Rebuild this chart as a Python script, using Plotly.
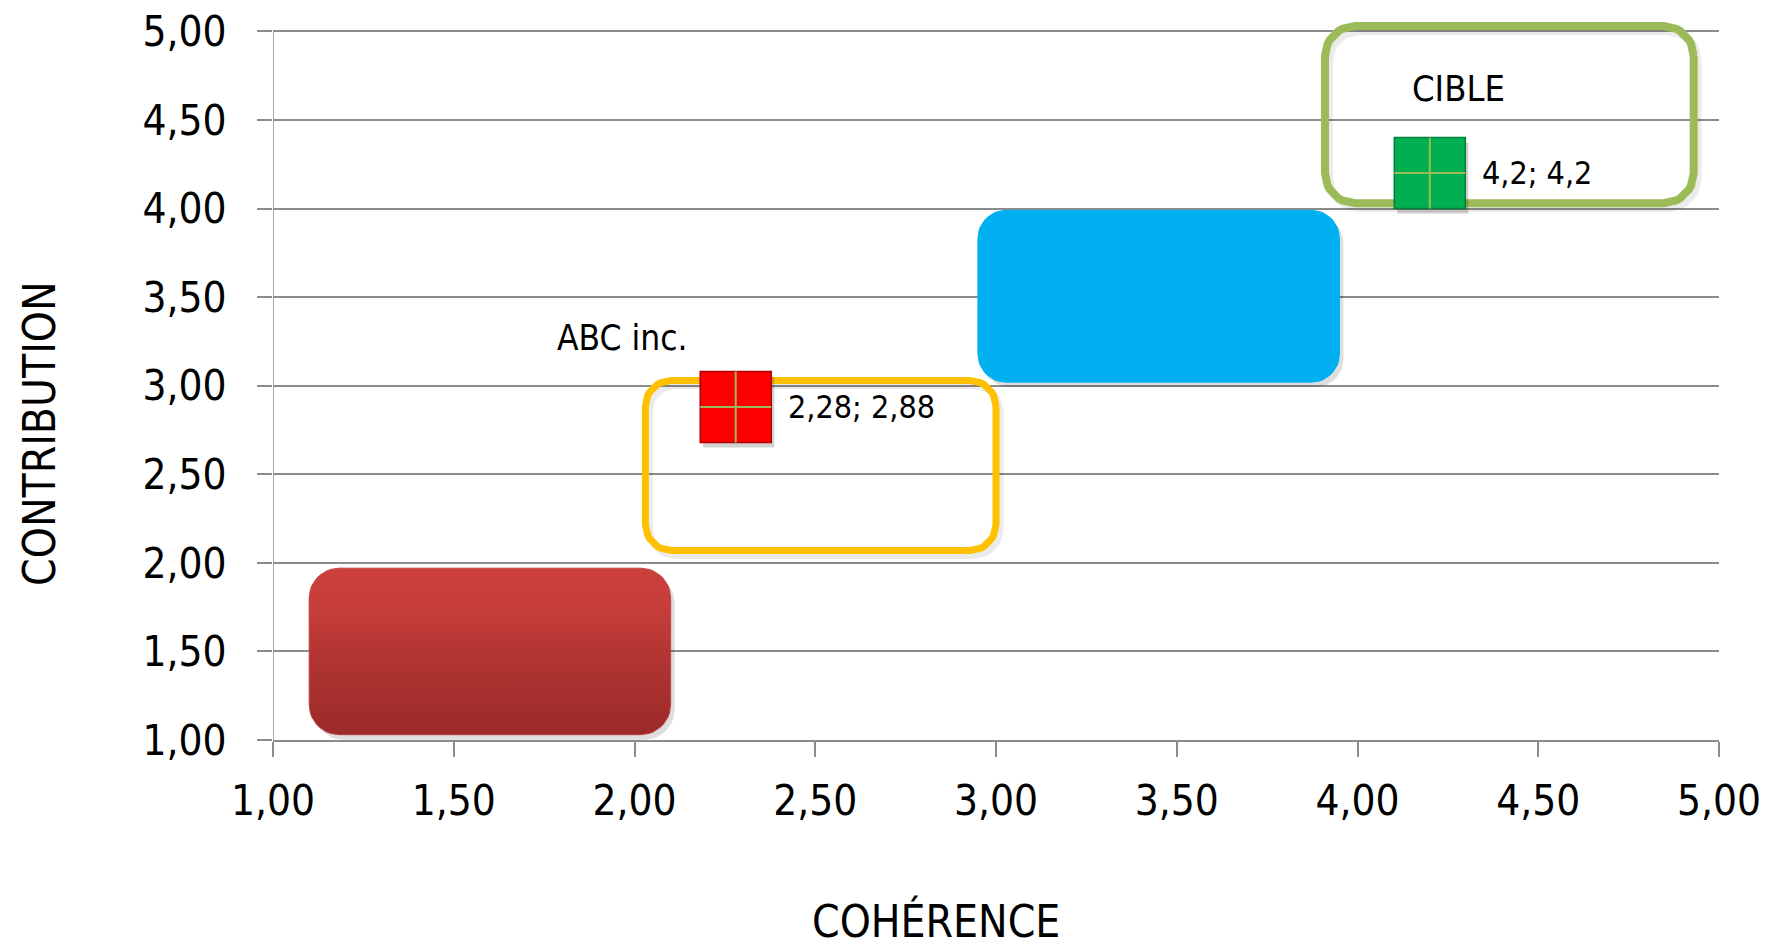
import numpy as np
import plotly.graph_objects as go

# ---------------- data ----------------
tick_vals = [1.0, 1.5, 2.0, 2.5, 3.0, 3.5, 4.0, 4.5, 5.0]
tick_text = ["1,00", "1,50", "2,00", "2,50", "3,00", "3,50", "4,00", "4,50", "5,00"]

zone_names = ["Faible", "ABC", "Moyen", "Cible"]
zone_x0 = [1.10, 2.03, 2.95, 3.91]
zone_x1 = [2.10, 3.00, 3.95, 4.93]
zone_y0 = [1.03, 2.07, 3.02, 4.03]
zone_y1 = [1.97, 3.03, 3.99, 5.03]

point_names = ["ABC inc.", "CIBLE"]
point_x = [2.28, 4.2]
point_y = [2.88, 4.2]
point_labels = ["2,28; 2,88", "4,2; 4,2"]

x_title = "COHÉRENCE"
y_title = "CONTRIBUTION"

# ---------------- layout geometry ----------------
W, H = 1769, 949
ML, MR, MB = 273, 50, 209
X_RANGE = [1, 5]
Y_RANGE = [1, 5.07]
PX_X = (W - ML - MR) / (X_RANGE[1] - X_RANGE[0])
Y_UNIT_PX = 177.1
plot_h = Y_UNIT_PX * (Y_RANGE[1] - Y_RANGE[0])
MT = H - MB - plot_h
PX_Y = Y_UNIT_PX
MARKER_PX = 71

FONT = "Liberation Sans Narrow, DejaVu Sans Condensed, Arial Narrow, sans-serif"
GRID = "#8C8C8C"


def rounded(x0, x1, y0, y1, r_px, n=12):
    rx, ry = r_px / PX_X, r_px / PX_Y
    xs, ys = [], []
    corners = [
        (x1 - rx, y1 - ry, 0, 90),
        (x0 + rx, y1 - ry, 90, 180),
        (x0 + rx, y0 + ry, 180, 270),
        (x1 - rx, y0 + ry, 270, 360),
    ]
    for cx, cy, a0, a1 in corners:
        t = np.radians(np.linspace(a0, a1, n))
        xs.extend(cx + rx * np.cos(t))
        ys.extend(cy + ry * np.sin(t))
    xs.append(xs[0])
    ys.append(ys[0])
    return xs, ys


fig = go.Figure()

zone_style = [
    dict(fill="red", r=30),
    dict(fill=None, color="#FFC000", width=7, r=26),
    dict(fill="#00B0F0", r=28),
    dict(fill=None, color="#9BBB59", width=8, r=30),
]

# shadows
for i, st in enumerate(zone_style):
    dx, dy = 4 / PX_X, -5 / PX_Y
    xs, ys = rounded(zone_x0[i] + dx, zone_x1[i] + dx, zone_y0[i] + dy, zone_y1[i] + dy, st["r"])
    if st["fill"] is not None:
        fig.add_trace(go.Scatter(x=xs, y=ys, mode="lines", fill="toself",
                                 fillcolor="rgba(0,0,0,0.13)", line=dict(width=0),
                                 hoverinfo="skip", showlegend=False))
    else:
        fig.add_trace(go.Scatter(x=xs, y=ys, mode="lines",
                                 line=dict(color="rgba(0,0,0,0.08)", width=st["width"]),
                                 hoverinfo="skip", showlegend=False))

for i, st in enumerate(zone_style):
    xs, ys = rounded(zone_x0[i], zone_x1[i], zone_y0[i], zone_y1[i], st["r"])
    if st["fill"] == "red":
        fig.add_trace(go.Scatter(
            x=xs, y=ys, mode="lines", fill="toself", name=zone_names[i],
            line=dict(color="#C0413E", width=1),
            fillgradient=dict(type="vertical",
                              colorscale=[[0, "#9A2A29"], [0.5, "#B43633"], [0.75, "#C63D3A"], [1, "#CC403C"]]),
            hoverinfo="skip", showlegend=False))
    elif st["fill"] is not None:
        fig.add_trace(go.Scatter(
            x=xs, y=ys, mode="lines", fill="toself", name=zone_names[i],
            fillcolor=st["fill"], line=dict(color=st["fill"], width=1),
            hoverinfo="skip", showlegend=False))
    else:
        fig.add_trace(go.Scatter(
            x=xs, y=ys, mode="lines", name=zone_names[i],
            line=dict(color=st["color"], width=st["width"]),
            hoverinfo="skip", showlegend=False))

# y axis line (from first to last tick)
fig.add_shape(type="line", xref="x", yref="y", x0=tick_vals[0], x1=tick_vals[0],
              y0=tick_vals[0], y1=tick_vals[-1], line=dict(color=GRID, width=1.5), layer="below")

marker_fill = ["#FF0000", "#00B050"]
marker_edge = ["#B00000", "#00803A"]
fig.add_trace(go.Scatter(
    x=[v + 3 / PX_X for v in point_x], y=[v - 5 / PX_Y for v in point_y], mode="markers",
    marker=dict(symbol="square", size=MARKER_PX, color="rgba(0,0,0,0.18)", line=dict(width=0)),
    hoverinfo="skip", showlegend=False, cliponaxis=False))
fig.add_trace(go.Scatter(
    x=point_x, y=point_y, mode="markers",
    marker=dict(symbol="square", size=MARKER_PX, color=marker_fill,
                line=dict(color=marker_edge, width=1.5)),
    showlegend=False, cliponaxis=False))
fig.add_trace(go.Scatter(
    x=point_x, y=point_y, mode="markers",
    marker=dict(symbol="cross-thin", size=MARKER_PX / 1.4, line=dict(color="#9BBB59", width=2)),
    hoverinfo="skip", showlegend=False, cliponaxis=False))

for px_, py_, lab in zip(point_x, point_y, point_labels):
    fig.add_annotation(x=px_, y=py_, xref="x", yref="y", text=lab, showarrow=False,
                       xanchor="left", yanchor="middle", xshift=MARKER_PX / 2 + 15,
                       font=dict(family=FONT, size=32, color="black"))

# series name labels
fig.add_annotation(x=1.966, y=3.27, xref="x", yref="y", text=point_names[0], showarrow=False,
                   font=dict(family=FONT, size=35, color="black"))
fig.add_annotation(x=4.28, y=4.68, xref="x", yref="y", text=point_names[1], showarrow=False,
                   font=dict(family=FONT, size=36, color="black"))

# axis titles
plot_w = W - ML - MR
fig.add_annotation(x=(936 - ML) / plot_w, y=-(921 - (H - MB)) / plot_h, xref="paper", yref="paper",
                   text=x_title, showarrow=False, xanchor="center", yanchor="middle",
                   font=dict(family=FONT, size=44, color="black"))
fig.add_annotation(x=(40 - ML) / plot_w, y=((H - MB) - 434) / plot_h, xref="paper", yref="paper",
                   text=y_title, showarrow=False, xanchor="center", yanchor="middle", textangle=-90,
                   font=dict(family=FONT, size=44, color="black"))

fig.update_layout(
    width=W, height=H,
    margin=dict(l=ML, r=MR, t=MT, b=MB, pad=0, autoexpand=False),
    paper_bgcolor="white", plot_bgcolor="white",
    font=dict(family=FONT, color="black"),
    showlegend=False,
    xaxis=dict(range=X_RANGE, tickvals=tick_vals, ticktext=tick_text, showgrid=False,
               zeroline=False, showline=True, linecolor=GRID, linewidth=1.5, automargin=False,
               ticks="outside", ticklen=15, tickcolor=GRID, tickwidth=1.5,
               tickfont=dict(family=FONT, size=42, color="black"), ticklabelstandoff=8),
    yaxis=dict(range=Y_RANGE, tickvals=tick_vals, ticktext=tick_text, showgrid=True,
               gridcolor=GRID, gridwidth=1.5, zeroline=False, showline=False, automargin=False,
               ticks="outside", ticklen=15, tickcolor=GRID, tickwidth=1.5,
               tickfont=dict(family=FONT, size=42, color="black"), ticklabelstandoff=22),
)

fig.write_html("out.html")
